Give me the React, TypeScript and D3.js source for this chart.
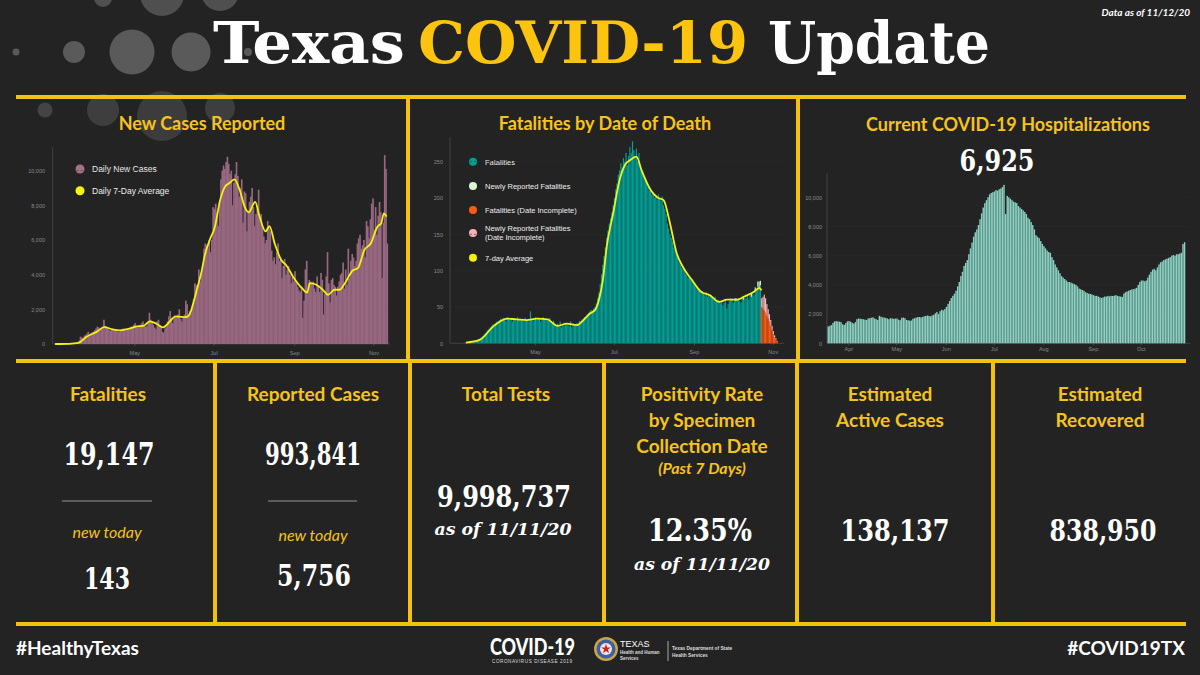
import { useEffect, useRef } from "react";
import * as d3 from "d3";

// ---- data ----
const START = new Date(2020, 2, 1); // day 0 = Mar 1 2020

// daily new cases, Mar 1 .. Nov 11
const caseDaily = [
  0, 0, 0, 1, 2, 3, 5,
  8, 10, 12, 15, 20, 25, 35,
  45, 60, 80, 120, 200, 420, 380,
  350, 480, 520, 600, 700, 580, 620,
  680, 720, 800, 900, 1000, 950, 880,
  920, 1000, 1400, 1050, 980, 900, 820,
  760, 850, 900, 800, 850, 760, 700,
  720, 800, 850, 900, 820, 780, 860,
  820, 900, 1000, 950, 1100, 1200, 1000,
  950, 1050, 1100, 1200, 1300, 1100, 1000,
  1050, 1250, 1800, 1400, 1250, 1100, 950,
  850, 1300, 1400, 1100, 950, 700, 650,
  900, 1000, 1300, 1600, 1900, 1500, 1200,
  1500, 1600, 1550, 1700, 2000, 1450, 1300,
  1500, 1700, 2500, 2300, 1700, 1900, 1800,
  2100, 2600, 3500, 3400, 3100, 4300, 3600,
  4100, 4500, 5500, 5800, 5700, 5500, 6000,
  5300, 6000, 7900, 7800, 8100, 7600, 6800,
  8200, 9500, 10000, 10300, 10100, 10500, 10800,
  10400, 9800, 10000, 8000, 9300, 9800, 10500,
  9700, 8500, 9000, 9500, 7000, 8800, 8700,
  6500, 7700, 8200, 8500, 9000, 7900, 6800,
  7500, 7800, 8900, 7300, 7500, 6700, 6200,
  5800, 6000, 7100, 6800, 6500, 5400, 4800,
  5000, 4600, 5300, 5800, 4800, 4900, 3800,
  4500, 4900, 4000, 4300, 4500, 4000, 3500,
  3900, 3600, 4200, 3500, 3300, 3100, 3000,
  3300, 1500, 2500, 4300, 4800, 3000, 3700,
  3600, 3500, 3600, 3200, 3000, 3900, 3300,
  3000, 4100, 3700, 1700, 2900, 3900, 5300,
  3500, 2400, 3700, 3800, 3400, 3300, 2800,
  3300, 3600, 4000, 4100, 4700, 3200, 4300,
  3400, 5500, 3800, 4800, 5200, 5000, 4500,
  4800, 5800, 6100, 6300, 5500, 5700, 6000,
  5000, 7100, 6800, 6100, 7200, 8100, 8400,
  6600, 7900, 6300, 7400, 8200, 7600, 3800,
  7000, 10900, 10100, 5800,
];

const caseAvgDates = [
  "2020-03-01", "2020-03-12", "2020-03-19", "2020-03-25", "2020-04-02", "2020-04-08",
  "2020-04-15", "2020-04-20", "2020-04-27", "2020-05-03", "2020-05-08", "2020-05-13",
  "2020-05-18", "2020-05-23", "2020-06-02", "2020-06-10", "2020-06-13", "2020-06-15",
  "2020-06-18", "2020-06-22", "2020-06-24", "2020-06-28", "2020-07-02", "2020-07-06",
  "2020-07-10", "2020-07-13", "2020-07-17", "2020-07-21", "2020-07-25", "2020-07-28",
  "2020-08-02", "2020-08-05", "2020-08-10", "2020-08-13", "2020-08-17", "2020-08-22",
  "2020-08-26", "2020-08-31", "2020-09-07", "2020-09-11", "2020-09-13", "2020-09-18",
  "2020-09-23", "2020-09-27", "2020-10-02", "2020-10-06", "2020-10-10", "2020-10-16",
  "2020-10-20", "2020-10-25", "2020-10-30", "2020-11-04", "2020-11-07", "2020-11-09",
  "2020-11-11",
];
const caseAvgValues = [
  0, 10, 60, 400, 700, 970,
  825, 790, 880, 1020, 1050, 1300,
  1170, 960, 1590, 1550, 1780, 2260,
  3100, 4280, 5050, 6000, 6770, 8300,
  9100, 9270, 9500, 8900, 7900, 7600,
  8200, 7450, 6500, 6800, 5800, 4850,
  4530, 3900, 3220, 2970, 3510, 3420,
  3130, 2840, 3130, 3130, 3510, 4240,
  4380, 5430, 5810, 6770, 6970, 7540,
  7350,
];

// fatalities by date of death, Mar 1 .. Oct 22
const deathDaily = [
  0, 0, 0, 0, 0, 0, 0,
  1, 0, 1, 1, 2, 1, 2,
  2, 3, 4, 5, 6, 8, 10,
  12, 14, 16, 18, 20, 22, 24,
  26, 23, 28, 30, 27, 32, 34,
  31, 35, 33, 30, 36, 34, 32,
  35, 30, 34, 33, 31, 36, 32,
  34, 31, 33, 30, 35, 32, 33,
  30, 44, 34, 31, 33, 36, 32,
  35, 33, 30, 34, 36, 32, 34,
  31, 34, 35, 30, 28, 31, 26,
  25, 27, 24, 30, 22, 26, 24,
  28, 25, 27, 24, 30, 22, 27,
  26, 24, 28, 27, 31, 30, 33,
  34, 36, 35, 40, 42, 44, 46,
  45, 48, 50, 55, 62, 70, 82,
  95, 108, 120, 132, 145, 155, 165,
  172, 180, 190, 200, 212, 220, 232,
  238, 248, 242, 255, 250, 262, 245,
  258, 270, 262, 278, 266, 255, 268,
  250, 262, 245, 240, 236, 230, 228,
  222, 215, 210, 214, 205, 208, 200,
  203, 198, 205, 200, 196, 202, 190,
  185, 178, 165, 158, 150, 145, 140,
  132, 128, 122, 118, 112, 108, 104,
  102, 100, 96, 94, 90, 92, 88,
  86, 84, 80, 78, 76, 74, 72,
  70, 72, 68, 66, 70, 64, 68,
  64, 66, 62, 60, 64, 58, 60,
  57, 55, 58, 52, 56, 60, 48,
  54, 58, 62, 60, 56, 62, 58,
  60, 62, 58, 56, 64, 60, 62,
  62, 66, 60, 68, 64, 70, 66,
  72, 74, 78, 76, 80,
];
// newly reported on top of the teal bars
const deathNewDates = ["2020-10-03", "2020-10-09", "2020-10-15", "2020-10-18", "2020-10-20", "2020-10-21", "2020-10-22"];
const deathNewValues = [4, 3, 4, 5, 7, 9, 6];
// date incomplete, Oct 23 .. Nov 4
const deathIncomplete = [50, 48, 45, 42, 38, 34, 30, 24, 18, 12, 8, 5, 2];
const deathIncompleteNew = [12, 16, 22, 20, 16, 13, 10, 8, 6, 5, 3, 2, 1];

const deathAvgDates = [
  "2020-03-08", "2020-03-19", "2020-03-29", "2020-04-09", "2020-04-16", "2020-04-24",
  "2020-05-02", "2020-05-10", "2020-05-18", "2020-05-25", "2020-06-02", "2020-06-07",
  "2020-06-12", "2020-06-16", "2020-06-19", "2020-06-22", "2020-06-25", "2020-06-30",
  "2020-07-05", "2020-07-09", "2020-07-13", "2020-07-18", "2020-07-22", "2020-07-29",
  "2020-08-03", "2020-08-08", "2020-08-13", "2020-08-18", "2020-08-23", "2020-08-30",
  "2020-09-06", "2020-09-13", "2020-09-20", "2020-09-26", "2020-10-04", "2020-10-09",
  "2020-10-17", "2020-10-21", "2020-10-23",
];
const deathAvgValues = [
  1, 5, 23, 34, 33, 32,
  34, 33, 24, 27, 25, 32,
  41, 46, 60, 87, 133, 179,
  225, 245, 252, 257, 238, 211,
  201, 197, 165, 125, 105, 87,
  71, 66, 57, 60, 60, 64,
  71, 76, 73,
];

// current hospitalizations, Apr 2 .. Nov 11
const hospStart = "2020-04-02";
const hospDaily = [
  1150, 1200, 1250,
  1400, 1500, 1520, 1500, 1480, 1450, 1300,
  1250, 1380, 1500, 1520, 1480, 1400, 1350,
  1450, 1650, 1700, 1680, 1660, 1650, 1620,
  1600, 1700, 1720, 1750, 1780, 1700, 1650,
  1600, 1880, 1820, 1780, 1760, 1740, 1700,
  1650, 1720, 1700, 1680, 1690, 1700, 1620,
  1580, 1750, 1760, 1720, 1600, 1580, 1550,
  1560, 1680, 1720, 1760, 1790, 1800, 1780,
  1800, 1850, 1870, 1900, 1880, 1850, 1900,
  1950, 2050, 2150, 2000, 2200, 2300, 2250,
  2350, 2500, 2700, 2900, 3100, 3250, 3400,
  3600, 3900, 4200, 4600, 4900, 5300, 5500,
  5700, 6100, 6500, 6900, 7300, 7600, 7800,
  8100, 8500, 8900, 9300, 9600, 9800, 10000,
  10200, 10300, 10350, 10400, 10500, 10450, 10550,
  10600, 10700, 10850, 8850, 10100, 10000, 9900,
  9800, 9700, 9650, 9600, 9400, 9300, 9200,
  9100, 9000, 8850, 8600, 8500, 8300, 8100,
  7800, 7400, 7300, 7200, 7000, 6800, 6650,
  6500, 6350, 6250, 6200, 5900, 5700, 5400,
  5200, 5000, 4800, 4600, 4500, 4400, 4300,
  4200, 4200, 4150, 4100, 4050, 4000, 3900,
  3750, 3700, 3650, 3600, 3500, 3450, 3400,
  3380, 3350, 3300, 3250, 3250, 3200, 3150,
  3100, 3150, 3200, 3200, 3250, 3220, 3250,
  3240, 3260, 3300, 3250, 3220, 3200, 3180,
  3400, 3500, 3550, 3600, 3650, 3700, 3700,
  3750, 3800, 4000, 4200, 4300, 4300, 4250,
  4300, 4500, 4700, 4900, 5050, 5100, 5000,
  5200, 5400, 5550, 5600, 5700, 5750, 5800,
  5850, 5900, 6000, 6050, 6000, 6100, 6100,
  6150, 6200, 6800, 6925,
];

const caseYTicks = [0, 2000, 4000, 6000, 8000, 10000];
const deathYTicks = [0, 50, 100, 150, 200, 250];
const hospYTicks = [0, 2000, 4000, 6000, 8000, 10000];
const caseXTicks = ["2020-05-01", "2020-07-01", "2020-09-01", "2020-11-01"];
const deathXTicks = ["2020-05-01", "2020-07-01", "2020-09-01", "2020-11-01"];
const hospXTicks = ["2020-04-15", "2020-05-15", "2020-06-15", "2020-07-15", "2020-08-15", "2020-09-15", "2020-10-15"];

const caseLegend = ["Daily New Cases", "Daily 7-Day Average"];
const deathLegend = [["Fatalities"], ["Newly Reported Fatalities"], ["Fatalities (Date Incomplete)"], ["Newly Reported Fatalities", "(Date Incomplete)"], ["7-day Average"]];

const statHeads = [["Fatalities"], ["Reported Cases"], ["Total Tests"], ["Positivity Rate", "by Specimen", "Collection Date"], ["Estimated", "Active Cases"], ["Estimated", "Recovered"]];

// ---- styles ----
const BG = "#232323";
const GOLD = "#f6c31c";
const LINE = "#f4c10f";
const sans = "Lato, 'Open Sans', sans-serif";
const slab = "'DejaVu Serif', serif";
const arial = "'Liberation Sans', Arial, sans-serif";

const parse = d3.timeParse("%Y-%m-%d");
const dayOf = (i) => d3.timeDay.offset(START, i);

function makeFrame(g, cfg) {
  const x = d3.scaleTime()
    .domain([START, dayOf(100)])
    .range([cfg.x0, cfg.x0 + 100 * cfg.ppd]);
  const y = d3.scaleLinear()
    .domain([0, 1000])
    .range([cfg.y0, cfg.y0 - 1000 * cfg.ppu]);

  // grid
  g.append("g")
    .selectAll("line")
    .data(cfg.yTicks.slice(1))
    .join("line")
    .attr("x1", cfg.axisX)
    .attr("x2", cfg.right)
    .attr("y1", (d) => y(d))
    .attr("y2", (d) => y(d))
    .attr("stroke", "#303030")
    .attr("stroke-dasharray", "2,2")
    .attr("stroke-width", 0.6);

  // y axis
  const ya = g.append("g")
    .attr("transform", `translate(${cfg.axisX},0)`)
    .call(d3.axisLeft(y).tickValues(cfg.yTicks).tickSize(0).tickPadding(cfg.axisX - cfg.labelX).tickFormat(d3.format(",")));
  ya.select(".domain").remove();
  ya.selectAll("text")
    .attr("fill", "#8a8a8a")
    .attr("font-size", 5.5)
    .attr("font-family", arial);
  g.append("line")
    .attr("x1", cfg.axisX).attr("x2", cfg.axisX)
    .attr("y1", cfg.top).attr("y2", cfg.y0)
    .attr("stroke", "#4a4a4a").attr("stroke-width", 0.8);

  // x axis
  const xa = g.append("g")
    .attr("transform", `translate(0,${cfg.y0})`)
    .call(d3.axisBottom(x).tickValues(cfg.xTicks.map(parse)).tickSize(2).tickPadding(cfg.xPad).tickFormat(d3.timeFormat("%b")));
  xa.select(".domain").remove();
  xa.selectAll("line").attr("stroke", "#4a4a4a");
  xa.selectAll("text")
    .attr("fill", "#8a8a8a")
    .attr("font-size", 5.5)
    .attr("font-family", arial);
  g.append("line")
    .attr("x1", cfg.axisX).attr("x2", cfg.right)
    .attr("y1", cfg.y0).attr("y2", cfg.y0)
    .attr("stroke", "#4a4a4a").attr("stroke-width", 0.8);

  return { x, y };
}

function bars(g, x, y, startDate, values, base, color, gap) {
  const bw = x(d3.timeDay.offset(startDate, 1)) - x(startDate);
  g.append("g")
    .selectAll("rect")
    .data(values)
    .join("rect")
    .attr("x", (d, i) => x(d3.timeDay.offset(startDate, i)))
    .attr("width", Math.max(0.3, bw - gap))
    .attr("y", (d, i) => y((base ? base[i] : 0) + d))
    .attr("height", (d, i) => Math.max(0, y(base ? base[i] : 0) - y((base ? base[i] : 0) + d)))
    .attr("fill", color);
}

export default function App() {
  const svgRef = useRef(null);

  useEffect(() => {
    document.body.style.margin = "0";
    const svg = d3.select(svgRef.current);
    svg.selectAll("g.charts").remove();
    const root = svg.append("g").attr("class", "charts");

    // ---- New cases ----
    {
      const g = root.append("g");
      const { x, y } = makeFrame(g, {
        x0: 55, ppd: 1.3, y0: 344, ppu: 0.017333, top: 147, axisX: 52.7, right: 390,
        labelX: 45, xPad: 5, yTicks: caseYTicks, xTicks: caseXTicks,
      });
      bars(g, x, y, START, caseDaily, null, "#976880", -0.35);
      const line = d3.line()
        .x((d, i) => x(parse(caseAvgDates[i])))
        .y((d) => y(d))
        .curve(d3.curveMonotoneX);
      g.append("path")
        .datum(caseAvgValues)
        .attr("fill", "none")
        .attr("stroke", "#f2f20c")
        .attr("stroke-width", 1.8)
        .attr("d", line);
    }

    // ---- Fatalities ----
    {
      const g = root.append("g");
      const { x, y } = makeFrame(g, {
        x0: 456.2, ppd: 1.292, y0: 343.3, ppu: 0.72656, top: 137, axisX: 450, right: 784,
        labelX: 443, xPad: 5, yTicks: deathYTicks, xTicks: deathXTicks,
      });
      bars(g, x, y, START, deathDaily, null, "#00a096", 0.1);
      // newly reported on teal
      const bw = x(dayOf(1)) - x(dayOf(0));
      g.append("g")
        .selectAll("rect")
        .data(deathNewValues)
        .join("rect")
        .attr("x", (d, i) => x(parse(deathNewDates[i])))
        .attr("width", bw - 0.1)
        .attr("y", (d, i) => {
          const idx = d3.timeDay.count(START, parse(deathNewDates[i]));
          return y(deathDaily[idx] + d);
        })
        .attr("height", (d) => y(0) - y(d))
        .attr("fill", "#c8f2c4");
      const incStart = parse("2020-10-23");
      bars(g, x, y, incStart, deathIncomplete, null, "#ff5a14", 0.1);
      bars(g, x, y, incStart, deathIncompleteNew, deathIncomplete, "#f6b3b6", 0.1);
      const line = d3.line()
        .x((d, i) => x(parse(deathAvgDates[i])) + bw / 2)
        .y((d) => y(d))
        .curve(d3.curveMonotoneX);
      g.append("path")
        .datum(deathAvgValues)
        .attr("fill", "none")
        .attr("stroke", "#eef21e")
        .attr("stroke-width", 1.8)
        .attr("d", line);
    }

    // ---- Hospitalizations ----
    {
      const g = root.append("g");
      const { x, y } = makeFrame(g, {
        x0: 776.4, ppd: 1.598, y0: 343.3, ppu: 0.0146, top: 173, axisX: 827, right: 1190,
        labelX: 822, xPad: 2, yTicks: hospYTicks, xTicks: hospXTicks,
      });
      bars(g, x, y, parse(hospStart), hospDaily, null, "#8bd3c4", 0.2);
    }
  }, []);

  const gridLinesH = [97, 361, 624];
  const gridTopV = [408, 798];
  const gridBotV = [215, 410, 604, 797, 993];
  const circles = [
    [16, 52, 3.5, 1], [74, 52, 11, 1], [132, 52, 22.5, 1], [191, 52, 19.5, 1], [248, 52, 4, 1],
    [103, -2, 9, 0.8], [162, -6, 22, 0.8], [220, -8, 19, 0.8],
    [45, 110, 7.5, 0.6], [103, 110, 16, 0.5], [162, 116, 25, 0.45], [220, 108, 15, 0.5],
  ];
  const statCx = [108, 313, 506, 702, 890, 1100];

  return (
    <svg ref={svgRef} width={1200} height={675} style={{ position: "absolute", left: 0, top: 0, display: "block" }}>
      <rect width={1200} height={675} fill={BG} />
      {circles.map(([cx, cy, r, o], i) => (
        <circle key={i} cx={cx} cy={cy} r={r} fill="#5a5a5a" opacity={o} />
      ))}

      {/* title */}
      <text x={213} y={63} fontFamily={slab} fontWeight={700} fontSize={58} fill="#fff" textLength={192} lengthAdjust="spacingAndGlyphs">Texas</text>
      <text x={418} y={63} fontFamily={slab} fontWeight={700} fontSize={58} fill="#fcc40f" textLength={330} lengthAdjust="spacingAndGlyphs">COVID-19</text>
      <text x={768} y={63} fontFamily={slab} fontWeight={700} fontSize={58} fill="#fff" textLength={222} lengthAdjust="spacingAndGlyphs">Update</text>
      <text x={1190} y={16} textAnchor="end" fontFamily={sans} fontStyle="italic" fontWeight={700} fontSize={10} fill="#fff">Data as of 11/12/20</text>

      {/* panel titles */}
      <text x={202} y={130} textAnchor="middle" fontFamily={sans} fontWeight={700} fontSize={18} fill={GOLD}>New Cases Reported</text>
      <text x={605} y={130} textAnchor="middle" fontFamily={sans} fontWeight={700} fontSize={18} fill={GOLD}>Fatalities by Date of Death</text>
      <text x={1008} y={131} textAnchor="middle" fontFamily={sans} fontWeight={700} fontSize={18} fill={GOLD}>Current COVID-19 Hospitalizations</text>
      <text x={997} y={171} textAnchor="middle" fontFamily={slab} fontWeight={700} fontSize={30} fill="#fff" textLength={75} lengthAdjust="spacingAndGlyphs">6,925</text>

      {/* legends */}
      {caseLegend.map((t, i) => (
        <g key={t}>
          <circle cx={80} cy={169 + i * 21.7} r={4.5} fill={i === 0 ? "#a87088" : "#f5f50a"} />
          <text x={92} y={172 + i * 21.7} fontFamily={arial} fontSize={8.5} fill="#eee">{t}</text>
        </g>
      ))}
      {deathLegend.map((lines, i) => {
        const cy = [161.7, 186, 210, 233, 257.7][i];
        const col = ["#00a096", "#d6f7cf", "#ff5a14", "#f6b3b6", "#f2f20c"][i];
        return (
          <g key={i}>
            <circle cx={473} cy={cy} r={4} fill={col} />
            {lines.map((t, j) => (
              <text key={t} x={485} y={cy + 2.8 + (lines.length > 1 ? (j - 0.5) * 9 : 0)} fontFamily={arial} fontSize={7.5} fill="#eee">{t}</text>
            ))}
          </g>
        );
      })}

      {/* gold grid */}
      {gridLinesH.map((yy) => (
        <line key={yy} x1={16} x2={1186} y1={yy} y2={yy} stroke={LINE} strokeWidth={4} />
      ))}
      {gridTopV.map((xx) => (
        <line key={xx} x1={xx} x2={xx} y1={97} y2={361} stroke={LINE} strokeWidth={4} />
      ))}
      {gridBotV.map((xx) => (
        <line key={xx} x1={xx} x2={xx} y1={361} y2={624} stroke={LINE} strokeWidth={4} />
      ))}

      {/* stat headers */}
      {statHeads.map((lines, i) =>
        lines.map((t, j) => (
          <text key={t + i} x={statCx[i]} y={401 + j * 26} textAnchor="middle" fontFamily={sans} fontWeight={700} fontSize={19} fill={GOLD}>{t}</text>
        ))
      )}
      <text x={702} y={474} textAnchor="middle" fontFamily={sans} fontStyle="italic" fontWeight={700} fontSize={16} fill={GOLD}>(Past 7 Days)</text>

      {/* stats */}
      <text x={109} y={465} textAnchor="middle" fontFamily={slab} fontWeight={700} fontSize={31} fill="#fff" textLength={91} lengthAdjust="spacingAndGlyphs">19,147</text>
      <line x1={62} x2={152} y1={501} y2={501} stroke="#5a5a5a" strokeWidth={2} />
      <text x={107} y={538} textAnchor="middle" fontFamily={sans} fontStyle="italic" fontSize={16} fill={GOLD}>new today</text>
      <text x={107} y={589} textAnchor="middle" fontFamily={slab} fontWeight={700} fontSize={29} fill="#fff" textLength={46} lengthAdjust="spacingAndGlyphs">143</text>

      <text x={313} y={465} textAnchor="middle" fontFamily={slab} fontWeight={700} fontSize={31} fill="#fff" textLength={96} lengthAdjust="spacingAndGlyphs">993,841</text>
      <line x1={268} x2={357} y1={501} y2={501} stroke="#5a5a5a" strokeWidth={2} />
      <text x={313} y={541} textAnchor="middle" fontFamily={sans} fontStyle="italic" fontSize={16} fill={GOLD}>new today</text>
      <text x={314} y={586} textAnchor="middle" fontFamily={slab} fontWeight={700} fontSize={29} fill="#fff" textLength={74} lengthAdjust="spacingAndGlyphs">5,756</text>

      <text x={504} y={507} textAnchor="middle" fontFamily={slab} fontWeight={700} fontSize={29} fill="#fff" textLength={134} lengthAdjust="spacingAndGlyphs">9,998,737</text>
      <text x={503} y={535} textAnchor="middle" fontFamily={slab} fontStyle="italic" fontWeight={700} fontSize={17} fill="#fff" textLength={137} lengthAdjust="spacingAndGlyphs">as of 11/11/20</text>

      <text x={700} y={541} textAnchor="middle" fontFamily={slab} fontWeight={700} fontSize={31} fill="#fff" textLength={104} lengthAdjust="spacingAndGlyphs">12.35%</text>
      <text x={702} y={570} textAnchor="middle" fontFamily={slab} fontStyle="italic" fontWeight={700} fontSize={17} fill="#fff" textLength={136} lengthAdjust="spacingAndGlyphs">as of 11/11/20</text>

      <text x={895} y={541} textAnchor="middle" fontFamily={slab} fontWeight={700} fontSize={29} fill="#fff" textLength={109} lengthAdjust="spacingAndGlyphs">138,137</text>
      <text x={1103} y={541} textAnchor="middle" fontFamily={slab} fontWeight={700} fontSize={29} fill="#fff" textLength={107} lengthAdjust="spacingAndGlyphs">838,950</text>

      {/* footer */}
      <text x={16} y={655} fontFamily={sans} fontWeight={700} fontSize={19} fill="#fff">#HealthyTexas</text>
      <text x={1185} y={655} textAnchor="end" fontFamily={sans} fontWeight={700} fontSize={19} fill="#fff">#COVID19TX</text>

      <text x={490} y={655} fontFamily={sans} fontWeight={900} fontSize={22} fill="#fff" textLength={85} lengthAdjust="spacingAndGlyphs">COVID-19</text>
      <text x={492} y={663} fontFamily={arial} fontSize={4.6} fill="#ddd" textLength={80} lengthAdjust="spacing">CORONAVIRUS DISEASE 2019</text>

      <circle cx={606} cy={649} r={12} fill="#c9a54a" />
      <circle cx={606} cy={649} r={9.5} fill="#3f5fa0" />
      <circle cx={606} cy={649} r={6} fill="#e8e8e8" />
      <path transform="translate(606,649)" d={d3.symbol(d3.symbolStar, 30)() || ""} fill="#c22" />
      <text x={620} y={647} fontFamily={arial} fontSize={9} fill="#fff">TEXAS</text>
      <text x={620} y={654} fontFamily={arial} fontWeight={700} fontSize={4.5} fill="#ddd">Health and Human</text>
      <text x={620} y={660} fontFamily={arial} fontWeight={700} fontSize={4.5} fill="#ddd">Services</text>
      <line x1={668} x2={668} y1={641} y2={661} stroke="#ccc" strokeWidth={0.8} />
      <text x={672} y={650} fontFamily={arial} fontWeight={700} fontSize={4.8} fill="#ddd">Texas Department of State</text>
      <text x={672} y={657} fontFamily={arial} fontWeight={700} fontSize={4.8} fill="#ddd">Health Services</text>
    </svg>
  );
}
